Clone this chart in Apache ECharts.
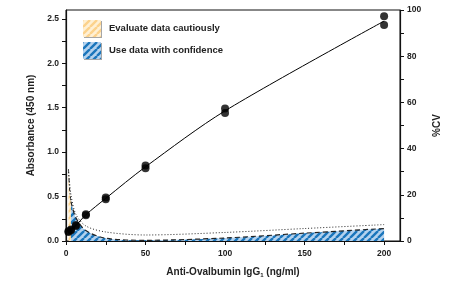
<!DOCTYPE html>
<html>
<head>
<meta charset="utf-8">
<script src="https://cdn.jsdelivr.net/npm/echarts@6/dist/echarts.min.js"></script>
<style>html,body{margin:0;padding:0;background:#fff;}#c{width:461px;height:283px;}</style>
</head>
<body>
<div id="c"></div>
<script>
// ---- data ----
const concX = [1.56, 3.125, 6.25, 12.5, 25, 50, 100, 200];
const absRepA = [0.10, 0.12, 0.17, 0.29, 0.47, 0.82, 1.44, 2.43];
const absRepB = [0.11, 0.13, 0.18, 0.30, 0.49, 0.85, 1.49, 2.53];
const absFit  = [0.105, 0.125, 0.175, 0.295, 0.48, 0.835, 1.465, 2.475];

const cvCautionX = [1.56, 2.3, 3.125];
const cvCaution  = [31, 22, 17];
const cvConfX = [3.125, 6.25, 12.5, 25, 50, 100, 150, 200];
const cvConf  = [17, 10, 4.5, 1.2, 0.3, 1.3, 3.4, 5.4];
const cvUpperX = [1.56, 3.125, 6.25, 12.5, 25, 50, 100, 150, 200];
const cvUpper  = [31, 20, 11.5, 6.5, 3.9, 2.6, 3.7, 5.4, 7.1];

const xTicks = [0, 25, 50, 75, 100, 125, 150, 175, 200];
const xLabels = [0, 50, 100, 150, 200];
const yLTicks = [0, 0.25, 0.5, 0.75, 1.0, 1.25, 1.5, 1.75, 2.0, 2.25, 2.5];
const yLLabels = [0, 0.5, 1.0, 1.5, 2.0, 2.5];
const yRTicks = [0, 10, 20, 30, 40, 50, 60, 70, 80, 90, 100];
const yRLabels = [0, 20, 40, 60, 80, 100];

const nameCaution = 'Evaluate data cautiously';
const nameConf = 'Use data with confidence';

// ---- styles ----
const FF = '"Liberation Sans", Arial, Helvetica, sans-serif';
const TXT = '#222';
function hatch(bg, fg, lw) {
  const s = 7;
  const c = document.createElement('canvas');
  c.width = s; c.height = s;
  const ctx = c.getContext('2d');
  ctx.fillStyle = bg; ctx.fillRect(0, 0, s, s);
  ctx.strokeStyle = fg; ctx.lineWidth = lw;
  ctx.beginPath();
  for (let k = -1; k <= 1; k++) { ctx.moveTo(k * s, s); ctx.lineTo(k * s + s, 0); }
  ctx.stroke();
  return { image: c, repeat: 'repeat' };
}
const orangePat = hatch('#fff0d4', '#fcd28c', 2.4);
const bluePat = hatch('#b4d2ee', '#1b76bc', 2.4);

const zip = (xs, ys) => xs.map((x, i) => [x, ys[i]]);

const labelStyle = { fontFamily: FF, fontWeight: 'bold', fontSize: 8.5, color: TXT };
const nameStyle = { fontFamily: FF, fontWeight: 'bold', fontSize: 10, color: TXT };
const legendShadow = { borderWidth: 0, shadowBlur: 1, shadowOffsetX: 1, shadowOffsetY: 1, shadowColor: 'rgba(0,0,0,0.35)' };

const chart = echarts.init(document.getElementById('c'), null, { renderer: 'canvas' });
chart.setOption({
  animation: false,
  grid: { left: 66, right: 61, top: 10, bottom: 42, show: true, borderColor: '#111', borderWidth: 1 },
  legend: {
    orient: 'vertical', left: 83, top: 20, padding: 0, itemWidth: 18, itemHeight: 17, itemGap: 5,
    textStyle: { fontFamily: FF, fontWeight: 'bold', fontSize: 9.5, color: TXT, padding: [0, 0, 0, 3] },
    selectedMode: false,
    data: [
      { name: nameCaution, icon: 'rect', itemStyle: { color: orangePat, ...legendShadow } },
      { name: nameConf, icon: 'rect', itemStyle: { color: bluePat, ...legendShadow } }
    ]
  },
  xAxis: {
    type: 'value', min: 0, max: 210,
    name: '{a|Anti-Ovalbumin IgG}{s|1}{a| (ng/ml)}',
    nameLocation: 'middle', nameGap: 25,
    nameTextStyle: { rich: { a: nameStyle, s: { fontFamily: FF, fontWeight: 'bold', fontSize: 6, color: TXT, padding: [6, 0, 0, 0] } } },
    axisLine: { show: true, onZero: false, lineStyle: { color: '#111', width: 1.2 } },
    axisTick: { show: true, customValues: xTicks, length: 4, lineStyle: { color: '#111' } },
    axisLabel: { customValues: xLabels, margin: 8, ...labelStyle },
    splitLine: { show: false }
  },
  yAxis: [
    {
      type: 'value', min: 0, max: 2.6, position: 'left',
      name: 'Absorbance (450 nm)', nameLocation: 'middle', nameGap: 27, nameRotate: 90,
      nameTextStyle: nameStyle,
      axisLine: { show: true, lineStyle: { color: '#111', width: 1.2 } },
      axisTick: { show: true, customValues: yLTicks, length: 4, lineStyle: { color: '#111' } },
      axisLabel: { customValues: yLLabels, margin: 7, formatter: v => v.toFixed(1), ...labelStyle },
      splitLine: { show: false }
    },
    {
      type: 'value', min: 0, max: 100, position: 'right',
      name: '%CV', nameLocation: 'middle', nameGap: 31, nameRotate: 90,
      nameTextStyle: nameStyle,
      axisLine: { show: true, lineStyle: { color: '#111', width: 1.2 } },
      axisTick: { show: true, customValues: yRTicks, length: 4, lineStyle: { color: '#111' } },
      axisLabel: { customValues: yRLabels, margin: 7, ...labelStyle },
      splitLine: { show: false }
    }
  ],
  series: [
    {
      name: nameCaution, type: 'line', yAxisIndex: 1, data: zip(cvCautionX, cvCaution),
      smooth: 0.3, showSymbol: false, z: 1,
      lineStyle: { color: '#222', width: 1, type: [4, 2, 1, 2] },
      areaStyle: { color: orangePat, opacity: 1 },
      itemStyle: { color: '#f5c77a' }
    },
    {
      name: nameConf, type: 'line', yAxisIndex: 1, data: zip(cvConfX, cvConf),
      smooth: 0.3, showSymbol: false, z: 1,
      lineStyle: { color: '#222', width: 1.2, type: [5, 3] },
      areaStyle: { color: bluePat, opacity: 1 },
      itemStyle: { color: '#1b76bc' }
    },
    {
      name: 'CV upper', type: 'line', yAxisIndex: 1, data: zip(cvUpperX, cvUpper),
      smooth: 0.3, showSymbol: false, z: 2,
      lineStyle: { color: '#222', width: 1, type: [1, 2] }
    },
    {
      name: 'Fit', type: 'line', yAxisIndex: 0, data: zip(concX, absFit),
      smooth: 0.3, showSymbol: false, z: 3,
      lineStyle: { color: '#000', width: 1 }
    },
    {
      name: 'Rep A', type: 'scatter', yAxisIndex: 0, data: zip(concX, absRepA),
      symbolSize: 8, z: 4, itemStyle: { color: '#000' }
    },
    {
      name: 'Rep B', type: 'scatter', yAxisIndex: 0, data: zip(concX, absRepB),
      symbolSize: 8, z: 4, itemStyle: { color: '#000' }
    }
  ]
});
</script>
</body>
</html>
